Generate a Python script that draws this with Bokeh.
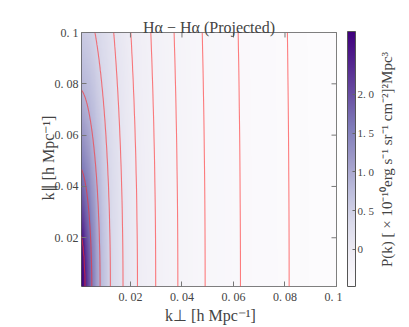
import numpy as np
from bokeh.plotting import figure
from bokeh.layouts import row
from bokeh.models import (LinearColorMapper, ColorBar, FixedTicker, LinearAxis,
                          Range1d)
from bokeh.palettes import Purples256
from bokeh.embed import file_html
from bokeh.resources import INLINE

# ---- data ----
k_min, k_max = 0.001, 0.1
tick_values = [0.02, 0.04, 0.06, 0.08, 0.1]
tick_labels = ["0. 02", "0. 04", "0. 06", "0. 08", "0. 1"]
cbar_ticks = [0.0, 0.5, 1.0, 1.5, 2.0]
cbar_labels = ["0", "0. 5", "1. 0", "1. 5", "2. 0"]
cbar_low, cbar_high = -0.48, 2.81
# radial profile: contour crossings on the k_perp axis and the power there
q_profile = [0.001, 0.0024, 0.0050, 0.0082, 0.0122, 0.0171, 0.0227, 0.0298,
             0.0384, 0.0490, 0.0627, 0.0816, 0.105]
P_profile = [2.81, 2.50, 1.60, 0.85, 0.40, 0.13, -0.05, -0.17,
             -0.26, -0.33, -0.39, -0.44, -0.48]
contour_levels = sorted(P_profile[1:-1])
kpar_weight = 0.105   # k_par is weighted by this factor in the projected field

# ---- field ----
n = 300
kperp = np.linspace(k_min, k_max, n)
kpar = np.linspace(k_min, k_max, n)
KX, KY = np.meshgrid(kperp, kpar)
Q = np.sqrt(KX**2 + (kpar_weight * KY)**2)
P = np.interp(np.log(Q), np.log(q_profile), P_profile)

FONT = "Liberation Serif"
FRAME = 255
TOP = 32
H = 326
W1 = 342          # main figure width (frame right edge at 336)
W2 = 33           # colour bar strip
W3 = 33           # colour bar label strip
BOTTOM = H - TOP - FRAME

p = figure(width=W1, height=H, x_range=Range1d(k_min, k_max),
           y_range=Range1d(k_min, k_max), output_backend="svg",
           toolbar_location=None, min_border_left=81, min_border_top=TOP,
           min_border_bottom=BOTTOM, min_border_right=W1 - 81 - FRAME)
p.grid.visible = False
p.outline_line_color = "#555555"
p.background_fill_color = "white"

p.title.text = "Hα − Hα (Projected)"
p.title.align = "center"
p.title.text_font = FONT
p.title.text_font_size = "16px"
p.title.text_font_style = "normal"
p.title.standoff = -6
p.title.offset = 0

mapper = LinearColorMapper(palette=list(reversed(Purples256)),
                           low=cbar_low, high=cbar_high)
p.image(image=[P], x=k_min, y=k_min, dw=k_max - k_min, dh=k_max - k_min,
        color_mapper=mapper)
p.contour(kperp, kpar, P, levels=contour_levels, line_color="#ff2a2a",
          line_alpha=0.6, line_width=1.1, fill_color=None)

ticker = FixedTicker(ticks=tick_values)
overrides = {v: s for v, s in zip(tick_values, tick_labels)}

for ax in (p.xaxis[0], p.yaxis[0]):
    ax.ticker = ticker
    ax.minor_tick_line_color = None
    ax.major_tick_in = 5
    ax.major_tick_out = 0
    ax.major_tick_line_color = "#777777"
    ax.axis_line_color = None
    ax.major_label_text_font = FONT
    ax.major_label_text_font_size = "12px"
    ax.major_label_overrides = overrides
    ax.axis_label_text_font = FONT
    ax.axis_label_text_font_size = "16px"
    ax.axis_label_text_font_style = "normal"

p.xaxis[0].axis_label = "k⊥ [h Mpc⁻¹]"
p.yaxis[0].axis_label = "k∥ [h Mpc⁻¹]"
p.xaxis[0].major_label_standoff = 3
p.xaxis[0].axis_label_standoff = 0
p.yaxis[0].major_label_standoff = 3
p.yaxis[0].axis_label_standoff = -5

# inward ticks on the top and right edges of the frame
tick_len = 5 * (k_max - k_min) / FRAME
p.segment(x0=tick_values, y0=[k_max] * len(tick_values), x1=tick_values,
          y1=[k_max - tick_len] * len(tick_values), line_color="#777777",
          line_width=1)
p.segment(x0=[k_max] * len(tick_values), y0=tick_values,
          x1=[k_max - tick_len] * len(tick_values), y1=tick_values,
          line_color="#777777", line_width=1)

# ---- colour bar strip ----
p2 = figure(width=W2, height=H, x_range=Range1d(0, 1), y_range=Range1d(0, 1),
            output_backend="svg", toolbar_location=None,
            x_axis_location=None, y_axis_location=None,
            min_border_left=0, min_border_right=0,
            min_border_top=TOP, min_border_bottom=BOTTOM)
p2.grid.visible = False
p2.outline_line_color = None
p2.background_fill_color = None
cb = ColorBar(color_mapper=mapper, width=8, height=FRAME, padding=0, margin=0,
              location=(5, 0),
              ticker=FixedTicker(ticks=cbar_ticks),
              major_label_overrides={v: s for v, s in zip(cbar_ticks, cbar_labels)},
              major_label_text_font=FONT, major_label_text_font_size="11px",
              label_standoff=2, major_tick_in=3, major_tick_out=0,
              major_tick_line_color="#666666", minor_tick_line_color=None,
              bar_line_color="#555555", border_line_color=None,
              background_fill_color=None)
p2.add_layout(cb)

# ---- colour bar label strip ----
p3 = figure(width=W3, height=H, x_range=Range1d(0, 1), y_range=Range1d(0, 1),
            output_backend="svg", toolbar_location=None,
            x_axis_location=None, y_axis_location=None,
            min_border_left=0, min_border_right=0,
            min_border_top=TOP, min_border_bottom=BOTTOM)
p3.grid.visible = False
p3.outline_line_color = None
p3.background_fill_color = None
cb_axis = LinearAxis(axis_label="P(k) [ × 10⁻¹⁰erg s⁻¹ sr⁻¹ cm⁻²]²Mpc³")
cb_axis.ticker = FixedTicker(ticks=[])
cb_axis.axis_line_color = None
cb_axis.major_tick_line_color = None
cb_axis.minor_tick_line_color = None
cb_axis.major_label_standoff = 0
cb_axis.axis_label_standoff = 0
cb_axis.axis_label_text_font = FONT
cb_axis.axis_label_text_font_size = "15px"
cb_axis.axis_label_text_font_style = "normal"
p3.add_layout(cb_axis, "left")

open("out.html", "w").write(file_html(row(p, p2, p3), INLINE))
